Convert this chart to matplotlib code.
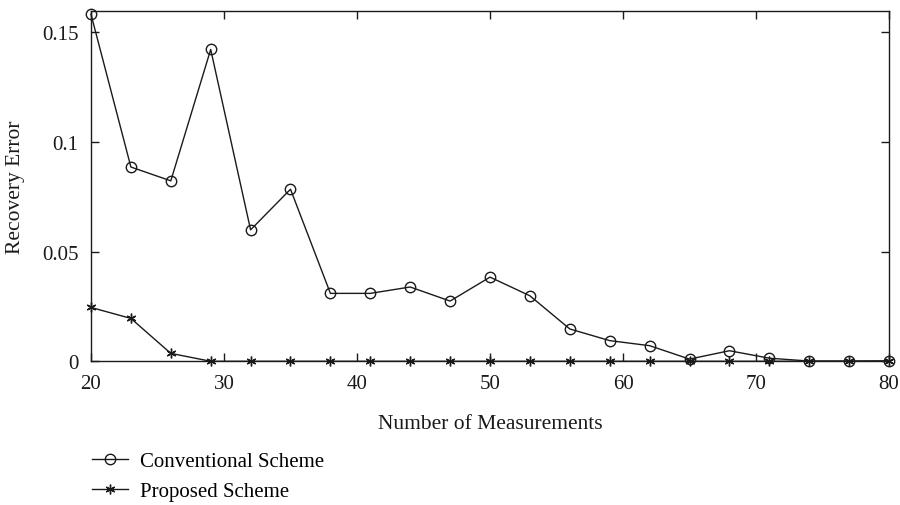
import matplotlib
matplotlib.use('Agg')
import matplotlib.pyplot as plt

plt.rcParams['font.family'] = ['Liberation Serif', 'DejaVu Serif']

# Datos
mediciones = [20, 23, 26, 29, 32, 35, 38, 41, 44, 47, 50, 53, 56, 59, 62, 65, 68, 71, 74, 77, 80]
error_convencional = [0.158, 0.0885, 0.0822, 0.142, 0.0599, 0.0784, 0.031, 0.031, 0.0339, 0.0275,
                      0.0384, 0.0299, 0.0148, 0.0095, 0.0072, 0.0011, 0.0049, 0.0015, 0.0002, 0.0002, 0.0003]
error_propuesto = [0.0246, 0.0196, 0.0037, 0.0001, 0.0001, 0.0001, 0.0001, 0.0001, 0.0001, 0.0001,
                   0.0001, 0.0001, 0.0001, 0.0001, 0.0001, 0.0001, 0.0001, 0.0001, 0.0001, 0.0001, 0.0001]

xticks = [20, 30, 40, 50, 60, 70, 80]
yticks = [0, 0.05, 0.1, 0.15]
ytick_labels = ['0', '0.05', '0.1', '0.15']

fig = plt.figure(figsize=(9, 5.06), dpi=100)
ax = fig.add_axes([0.1011, 0.2836, 0.8867, 0.6927])

color = '#1a1a1a'
ax.plot(mediciones, error_convencional, color=color, lw=1.0, marker='o', ms=7.5,
        mfc='none', mec=color, mew=1.0, label='Conventional Scheme', clip_on=False)
ax.plot(mediciones, error_propuesto, color=color, lw=1.0, marker=(6, 2, 0), ms=7,
        mec=color, mew=1.0, label='Proposed Scheme', clip_on=False)

ax.set_xlim(20, 80)
ax.set_ylim(0, 0.1595)
ax.set_xticks(xticks)
ax.set_yticks(yticks)
ax.set_yticklabels(ytick_labels)
ax.tick_params(direction='in', length=6, width=1, top=True, right=True,
               labelsize=15, pad=9, colors=color)
for s in ax.spines.values():
    s.set_linewidth(1.0)
    s.set_color(color)

ax.set_xlabel('Number of Measurements', fontsize=15.5, labelpad=15, color=color)
ax.set_ylabel('Recovery Error', fontsize=15.5, labelpad=12, color=color)

fig.legend(loc='upper left', bbox_to_anchor=(0.102, 0.106), frameon=False, fontsize=15,
           handlelength=1.75, handletextpad=0.55, labelspacing=0.5, borderaxespad=0,
           borderpad=0, markerscale=1.0)

fig.savefig('out.png', dpi=100)
